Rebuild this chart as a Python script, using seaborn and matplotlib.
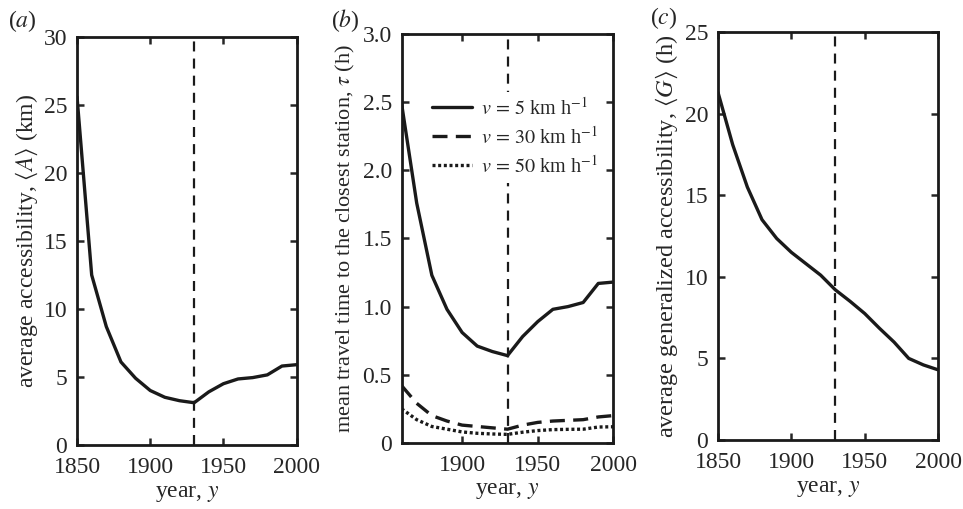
import numpy as np
import pandas as pd
import seaborn as sns
import matplotlib
matplotlib.use('Agg')
import matplotlib.pyplot as plt

# -----------------------------
# data
# -----------------------------
years = [1850, 1860, 1870, 1880, 1890, 1900, 1910, 1920, 1930,
         1940, 1950, 1960, 1970, 1980, 1990, 2000]
access_km = [25.6, 12.5, 8.7, 6.1, 4.9, 4.0, 3.5, 3.25, 3.1,
             3.9, 4.5, 4.85, 4.95, 5.15, 5.8, 5.9]

years_b = [1860, 1870, 1880, 1890, 1900, 1910, 1920, 1930,
           1940, 1950, 1960, 1970, 1980, 1990, 2000]
tau_v5 = [2.49, 1.76, 1.23, 0.98, 0.81, 0.71, 0.67, 0.64,
          0.78, 0.89, 0.98, 1.0, 1.03, 1.17, 1.18]
tau_v30 = [0.42, 0.29, 0.20, 0.16, 0.13, 0.12, 0.11, 0.10,
           0.13, 0.15, 0.16, 0.165, 0.17, 0.19, 0.20]
tau_v50 = [0.25, 0.17, 0.12, 0.10, 0.08, 0.07, 0.065, 0.062,
           0.078, 0.09, 0.097, 0.099, 0.10, 0.116, 0.118]
speed_labels = [r'$v\,=\,5$ km h$^{-1}$', r'$v\,=\,30$ km h$^{-1}$',
                r'$v\,=\,50$ km h$^{-1}$']

gen_access_h = [21.3, 18.1, 15.5, 13.5, 12.35, 11.5, 10.8, 10.1, 9.2,
                8.5, 7.75, 6.85, 6.0, 5.0, 4.6, 4.3]

split_year = 1930
panel_letters = ['a', 'b', 'c']


def style_axis(ax):
    ax.tick_params(direction='in', top=True, right=True, length=5,
                   width=1.8, labelsize=17)
    ax.tick_params(axis='x', pad=9)
    ax.tick_params(axis='y', pad=7)
    for sp in ax.spines.values():
        sp.set_visible(True)
        sp.set_linewidth(2.0)
        sp.set_color('#1a1a1a')
    ax.axvline(split_year, color='#1a1a1a', lw=1.6, ls=(0, (4.5, 3.2)), zorder=1)
    ax.set_xlabel('year, $y$', fontsize=17, labelpad=3)


sns.set_theme(style='ticks')
plt.rcParams['font.family'] = ['Liberation Serif', 'DejaVu Serif']
plt.rcParams['mathtext.fontset'] = 'stix'

fig = plt.figure(figsize=(9.63, 5.09), dpi=100)
ax_a = fig.add_axes([0.080, 0.126, 0.228, 0.801])
ax_b = fig.add_axes([0.417, 0.130, 0.220, 0.803])
ax_c = fig.add_axes([0.7456, 0.1356, 0.2285, 0.8014])

# (a) average accessibility
df_a = pd.DataFrame({'year': years, 'A': access_km})
sns.lineplot(data=df_a, x='year', y='A', ax=ax_a, color='#1a1a1a', lw=2.4)
ax_a.set_xlim(1850, 2000)
ax_a.set_ylim(0, 30)
ax_a.set_xticks([1850, 1900, 1950, 2000])
ax_a.set_yticks([0, 5, 10, 15, 20, 25, 30])
ax_a.set_ylabel(r'average accessibility, $\langle A\rangle$ (km)', fontsize=17, labelpad=3)
style_axis(ax_a)

# (b) mean travel time
df_b = pd.DataFrame({'year': years_b * 3,
                     'tau': tau_v5 + tau_v30 + tau_v50,
                     'speed': [speed_labels[0]] * len(years_b)
                     + [speed_labels[1]] * len(years_b)
                     + [speed_labels[2]] * len(years_b)})
line_styles = ['-', (0, (4.5, 2.5)), (0, (0.9, 0.8))]
for lab, ls in zip(speed_labels, line_styles):
    sub = df_b[df_b['speed'] == lab]
    sns.lineplot(data=sub, x='year', y='tau', ax=ax_b, color='#1a1a1a',
                 lw=2.4, ls=ls, label=lab)
ax_b.set_xlim(1860, 2000)
ax_b.set_ylim(0, 3)
ax_b.set_xticks([1900, 1950, 2000])
ax_b.set_yticks([0, 0.5, 1.0, 1.5, 2.0, 2.5, 3.0])
ax_b.set_yticklabels(['0', '0.5', '1.0', '1.5', '2.0', '2.5', '3.0'])
ax_b.set_ylabel(r'mean travel time to the closest station, $\tau$ (h)', fontsize=16, labelpad=4)
style_axis(ax_b)
leg = ax_b.legend(loc='upper left', bbox_to_anchor=(0.119, 0.858), frameon=True,
                  fontsize=14.5, handlelength=2.0, handletextpad=0.45,
                  labelspacing=0.36, borderpad=0.25, borderaxespad=0)
leg.get_frame().set_facecolor('white')
leg.get_frame().set_edgecolor('none')
leg.get_frame().set_alpha(1.0)
leg.get_frame().set_boxstyle('square', pad=0)

# (c) average generalized accessibility
df_c = pd.DataFrame({'year': years, 'G': gen_access_h})
sns.lineplot(data=df_c, x='year', y='G', ax=ax_c, color='#1a1a1a', lw=2.4)
ax_c.set_xlim(1850, 2000)
ax_c.set_ylim(0, 25)
ax_c.set_xticks([1850, 1900, 1950, 2000])
ax_c.set_yticks([0, 5, 10, 15, 20, 25])
ax_c.set_ylabel(r'average generalized accessibility, $\langle G\rangle$ (h)', fontsize=17.5, labelpad=3)
style_axis(ax_c)

# panel tags
tag_xy = [(8, 21), (331, 21), (650, 18)]
for (px, py), letter in zip(tag_xy, panel_letters):
    fig.text(px / 963, 1 - py / 509, '(' + r'$\mathit{' + letter + '}$' + ')',
             fontsize=17, va='center', ha='left')

fig.savefig('out.png', dpi=100)
